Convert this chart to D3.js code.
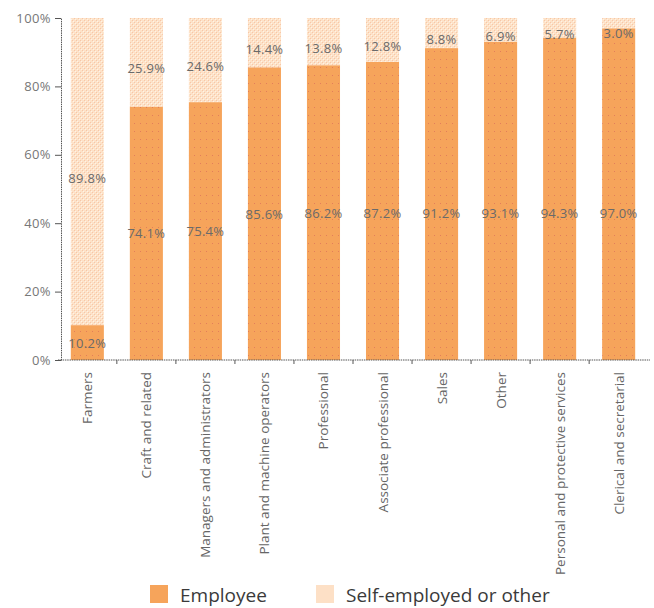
<!DOCTYPE html>
<html>
<head>
<meta charset="utf-8">
<script src="https://cdn.jsdelivr.net/npm/d3@7"></script>
<style>
  html, body { margin: 0; padding: 0; background: #fff; }
  svg { display: block; font-family: "Open Sans", "Noto Sans", sans-serif; }
</style>
</head>
<body>
<svg id="chart" width="654" height="608"></svg>
<script>
// Occupational groups, share of employees vs self-employed (percent)
const categories = [
  "Farmers", "Craft and related", "Managers and administrators",
  "Plant and machine operators", "Professional", "Associate professional",
  "Sales", "Other", "Personal and protective services", "Clerical and secretarial"
];
const employee     = [10.2, 74.1, 75.4, 85.6, 86.2, 87.2, 91.2, 93.1, 94.3, 97.0];
const selfEmployed = [89.8, 25.9, 24.6, 14.4, 13.8, 12.8, 8.8, 6.9, 5.7, 3.0];
const yTicks = [0, 20, 40, 60, 80, 100];
const seriesNames = ["Employee", "Self-employed or other"];

const svg = d3.select("#chart");

const x = d3.scaleBand().domain(categories).range([59, 647]).paddingInner(0.44).paddingOuter(0.2);
const y = d3.scaleLinear().domain([0, 100]).range([360, 18]);

// Fill textures
const defs = svg.append("defs");
const pEmp = defs.append("pattern").attr("id", "pEmp")
  .attr("patternUnits", "userSpaceOnUse").attr("width", 6).attr("height", 8);
pEmp.append("rect").attr("width", 6).attr("height", 8).attr("fill", "#F6A45B");
pEmp.append("rect").attr("x", 2).attr("y", 3).attr("width", 1).attr("height", 1).attr("fill", "#E27E5A");

const pSelf = defs.append("pattern").attr("id", "pSelf")
  .attr("patternUnits", "userSpaceOnUse").attr("width", 4).attr("height", 4);
pSelf.append("rect").attr("width", 4).attr("height", 4).attr("fill", "#FDE2C8");
pSelf.append("rect").attr("x", 0).attr("y", 0).attr("width", 1).attr("height", 1).attr("fill", "#F8C6A6");
pSelf.append("rect").attr("x", 2).attr("y", 2).attr("width", 1).attr("height", 1).attr("fill", "#F8C6A6");
pSelf.append("rect").attr("x", 1).attr("y", 1).attr("width", 1).attr("height", 1).attr("fill", "#FFF3E6");
pSelf.append("rect").attr("x", 3).attr("y", 3).attr("width", 1).attr("height", 1).attr("fill", "#FFF3E6");

// Stacked bars
const rows = categories.map((c, i) => ({ cat: c, emp: employee[i], self: selfEmployed[i] }));

const g = svg.append("g");
g.selectAll("rect.emp").data(rows).join("rect")
  .attr("class", "emp")
  .attr("x", d => x(d.cat)).attr("width", x.bandwidth())
  .attr("y", d => y(d.emp)).attr("height", d => y(0) - y(d.emp))
  .attr("fill", "url(#pEmp)");
g.selectAll("rect.self").data(rows).join("rect")
  .attr("class", "self")
  .attr("x", d => x(d.cat)).attr("width", x.bandwidth())
  .attr("y", d => y(d.emp + d.self)).attr("height", d => y(d.emp) - y(d.emp + d.self))
  .attr("fill", "url(#pSelf)");

// Value labels
const labelStyle = sel => sel
  .attr("text-anchor", "middle").attr("dominant-baseline", "central")
  .attr("font-size", 13).attr("letter-spacing", 0.3).attr("fill", "#6a6a6a");

g.selectAll("text.empLbl").data(rows).join("text")
  .attr("class", "empLbl")
  .attr("x", d => x(d.cat) + x.bandwidth() / 2)
  .attr("y", d => y(Math.min(d.emp / 2, 43)))
  .text(d => d.emp.toFixed(1) + "%")
  .call(labelStyle);

g.selectAll("text.selfLbl").data(rows).join("text")
  .attr("class", "selfLbl")
  .attr("x", d => x(d.cat) + x.bandwidth() / 2)
  .attr("y", d => Math.max(y(d.emp + d.self / 2) + 6, y(95.5)))
  .text(d => d.self.toFixed(1) + "%")
  .call(labelStyle);

// Y axis
const yAxis = d3.axisLeft(y).tickValues(yTicks).tickFormat(d => d + "%").tickSize(6).tickSizeOuter(0);
const ya = svg.append("g").attr("transform", "translate(61,0)").call(yAxis);
ya.select(".domain").attr("stroke", "#555").attr("stroke-dasharray", "1.5,0.8");
ya.selectAll(".tick line").attr("stroke", "#555");
ya.selectAll(".tick text").attr("font-size", 13).attr("letter-spacing", 0.4).attr("fill", "#777")
  .attr("font-family", "'Open Sans', sans-serif").attr("x", -10);

// X axis: baseline with separators between categories
const xa = svg.append("g").attr("transform", "translate(0,360)");
xa.append("line").attr("x1", 58).attr("x2", 650).attr("y1", 0).attr("y2", 0)
  .attr("stroke", "#555").attr("stroke-dasharray", "1.5,0.8");
const step = x.step();
xa.selectAll("line.sep").data(categories.slice(1)).join("line")
  .attr("class", "sep")
  .attr("x1", d => x(d) - (step - x.bandwidth()) / 2)
  .attr("x2", d => x(d) - (step - x.bandwidth()) / 2)
  .attr("y1", 0).attr("y2", 4).attr("stroke", "#555");
xa.selectAll("text.cat").data(categories).join("text")
  .attr("class", "cat")
  .attr("transform", d => `translate(${x(d) + x.bandwidth() / 2},12) rotate(-90)`)
  .attr("text-anchor", "end").attr("dominant-baseline", "central")
  .attr("font-size", 13.5).attr("fill", "#666")
  .text(d => d);

// Legend
const legendColors = ["#F6A45B", "#FDE0C6"];
const legend = svg.append("g").attr("transform", "translate(0,585)");
const lx = [150, 316];
seriesNames.forEach((name, i) => {
  legend.append("rect").attr("x", lx[i]).attr("y", 0).attr("width", 18).attr("height", 18)
    .attr("fill", legendColors[i]);
  legend.append("text").attr("x", lx[i] + 30).attr("y", 10)
    .attr("dominant-baseline", "central")
    .attr("font-size", 19).attr("fill", "#3a3a3a")
    .text(name);
});
</script>
</body>
</html>
